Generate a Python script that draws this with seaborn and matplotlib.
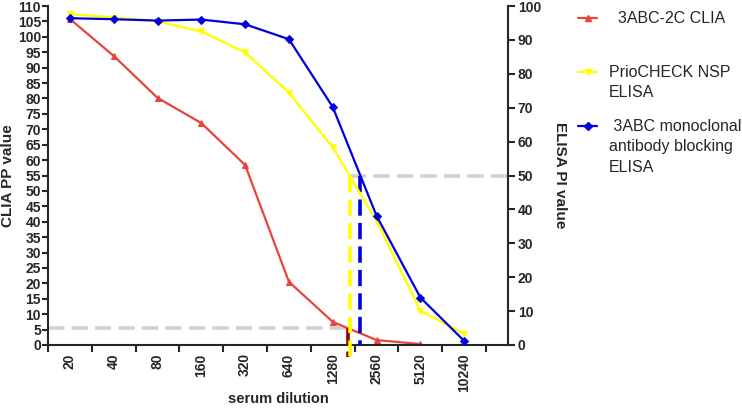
import matplotlib
matplotlib.use("Agg")
import matplotlib.pyplot as plt
from matplotlib.lines import Line2D
import numpy as np
import seaborn as sns

dilutions = ["20", "40", "80", "160", "320", "640", "1280", "2560", "5120", "10240"]
clia_pp = [105.8, 93.8, 80.2, 72.0, 58.4, 20.5, 7.5, 1.6, 0.3, np.nan]
priocheck_pi = [97.6, 96.6, 95.5, 92.5, 86.3, 74.4, 58.3, 36.6, 10.1, 3.3]
mab_pi = [96.4, 96.1, 95.7, 96.0, 94.6, 90.2, 70.2, 38.1, 14.0, 1.2]
clia_cutoff = 5.5
elisa_cutoff = 50
series_names = ["  3ABC-2C CLIA", "PrioCHECK NSP\nELISA", " 3ABC monoclonal\nantibody blocking\nELISA"]

red = "#E8443E"
yellow = "#FFFF00"
blue = "#0000DD"
grey = "#D0D0D0"

sns.set_style("ticks")
plt.rcParams["font.family"] = ["Liberation Sans", "DejaVu Sans"]

pos = np.arange(len(dilutions))


def crossing(values, level):
    v = np.array(values, dtype=float)
    ok = ~np.isnan(v)
    return float(np.interp(-level, -v[ok], pos[ok]))


W, H = 742, 408
fig = plt.figure(figsize=(W / 100, H / 100), dpi=100)
ax = fig.add_axes([48 / W, 63 / H, 460 / W, 339 / H])
ax2 = ax.twinx()

sns.lineplot(x=pos, y=clia_pp, ax=ax, color=red, marker="^", markersize=5,
             markeredgecolor=red, linewidth=1.6, legend=False)
sns.lineplot(x=pos, y=priocheck_pi, ax=ax2, color=yellow, marker="v", markersize=5,
             markeredgecolor=yellow, linewidth=1.7, legend=False)
sns.lineplot(x=pos, y=mab_pi, ax=ax2, color=blue, marker="D", markersize=4.5,
             markeredgecolor=blue, linewidth=1.6, legend=False)

# cut-off lines
x_red = crossing(clia_pp, clia_cutoff)
x_yel = crossing(priocheck_pi, elisa_cutoff)
x_blu = crossing(mab_pi, elisa_cutoff)
dash = dict(linestyle=(0, (4.5, 2)), linewidth=2.6, clip_on=False)
ax.plot([-0.5, x_red], [clia_cutoff, clia_cutoff], color=grey, zorder=1, **dash)
ax2.plot([x_yel, 10], [elisa_cutoff, elisa_cutoff], color=grey, zorder=1, **dash)
ax2.plot([x_yel, x_yel], [elisa_cutoff, -4], color=yellow, zorder=1, **dash)
ax2.plot([x_blu, x_blu], [elisa_cutoff, 0], color=blue, zorder=1, **dash)
ax.plot([x_red, x_red], [clia_cutoff, -4], color="#8B0000", zorder=3, **dash)

ax.set_xlim(-0.5, 10)
ax.set_ylim(0, 110)
ax2.set_ylim(0, 100)
ax.set_xticks(pos)
ax.set_xticklabels(dilutions, rotation=90, fontweight="bold", fontsize=10)
ax.set_xticks(np.arange(-0.5, 10, 1), minor=True)
ax.tick_params(axis="x", which="major", length=0, pad=6)
ax.tick_params(axis="x", which="minor", length=5, width=1.5)
ax.set_yticks(np.arange(0, 111, 5))
ax.tick_params(axis="y", length=4, width=1.5, pad=1, labelsize=10)
ax2.set_yticks(np.arange(0, 101, 10))
ax2.tick_params(axis="y", length=5, width=1.5, pad=2, labelsize=10)
for lbl in ax.get_yticklabels() + ax2.get_yticklabels():
    lbl.set_fontweight("bold")

ax.set_xlabel("serum dilution", fontweight="bold", fontsize=10.5, labelpad=0)
ax.set_ylabel("CLIA PP value", fontweight="bold", fontsize=11, labelpad=2)
ax2.set_ylabel("ELISA PI value", fontweight="bold", fontsize=11, rotation=-90, labelpad=19)

for a in (ax, ax2):
    a.spines["top"].set_visible(False)
    for s in a.spines.values():
        s.set_linewidth(1.5)
ax.spines["right"].set_visible(False)
ax2.spines["left"].set_visible(False)
ax2.spines["bottom"].set_visible(False)

# legend, handles aligned with first text line
series_lines = ax.get_lines()[:1] + ax2.get_lines()[:2]
for i, (src, name) in enumerate(zip(series_lines, series_names)):
    hy = 1 - (18 + 54 * i) / H
    fig.add_artist(Line2D([578 / W, 597 / W], [hy, hy], transform=fig.transFigure,
                          color=src.get_color(), linewidth=1.6))
    fig.add_artist(Line2D([587.5 / W], [hy], transform=fig.transFigure,
                          color=src.get_color(), marker=src.get_marker(),
                          markersize=src.get_markersize()))
    fig.text(609 / W, hy + 7 / H, name, fontsize=11.5, va="top",
             ha="left", linespacing=1.45)

plt.savefig("out.png", dpi=100)
plt.close()
